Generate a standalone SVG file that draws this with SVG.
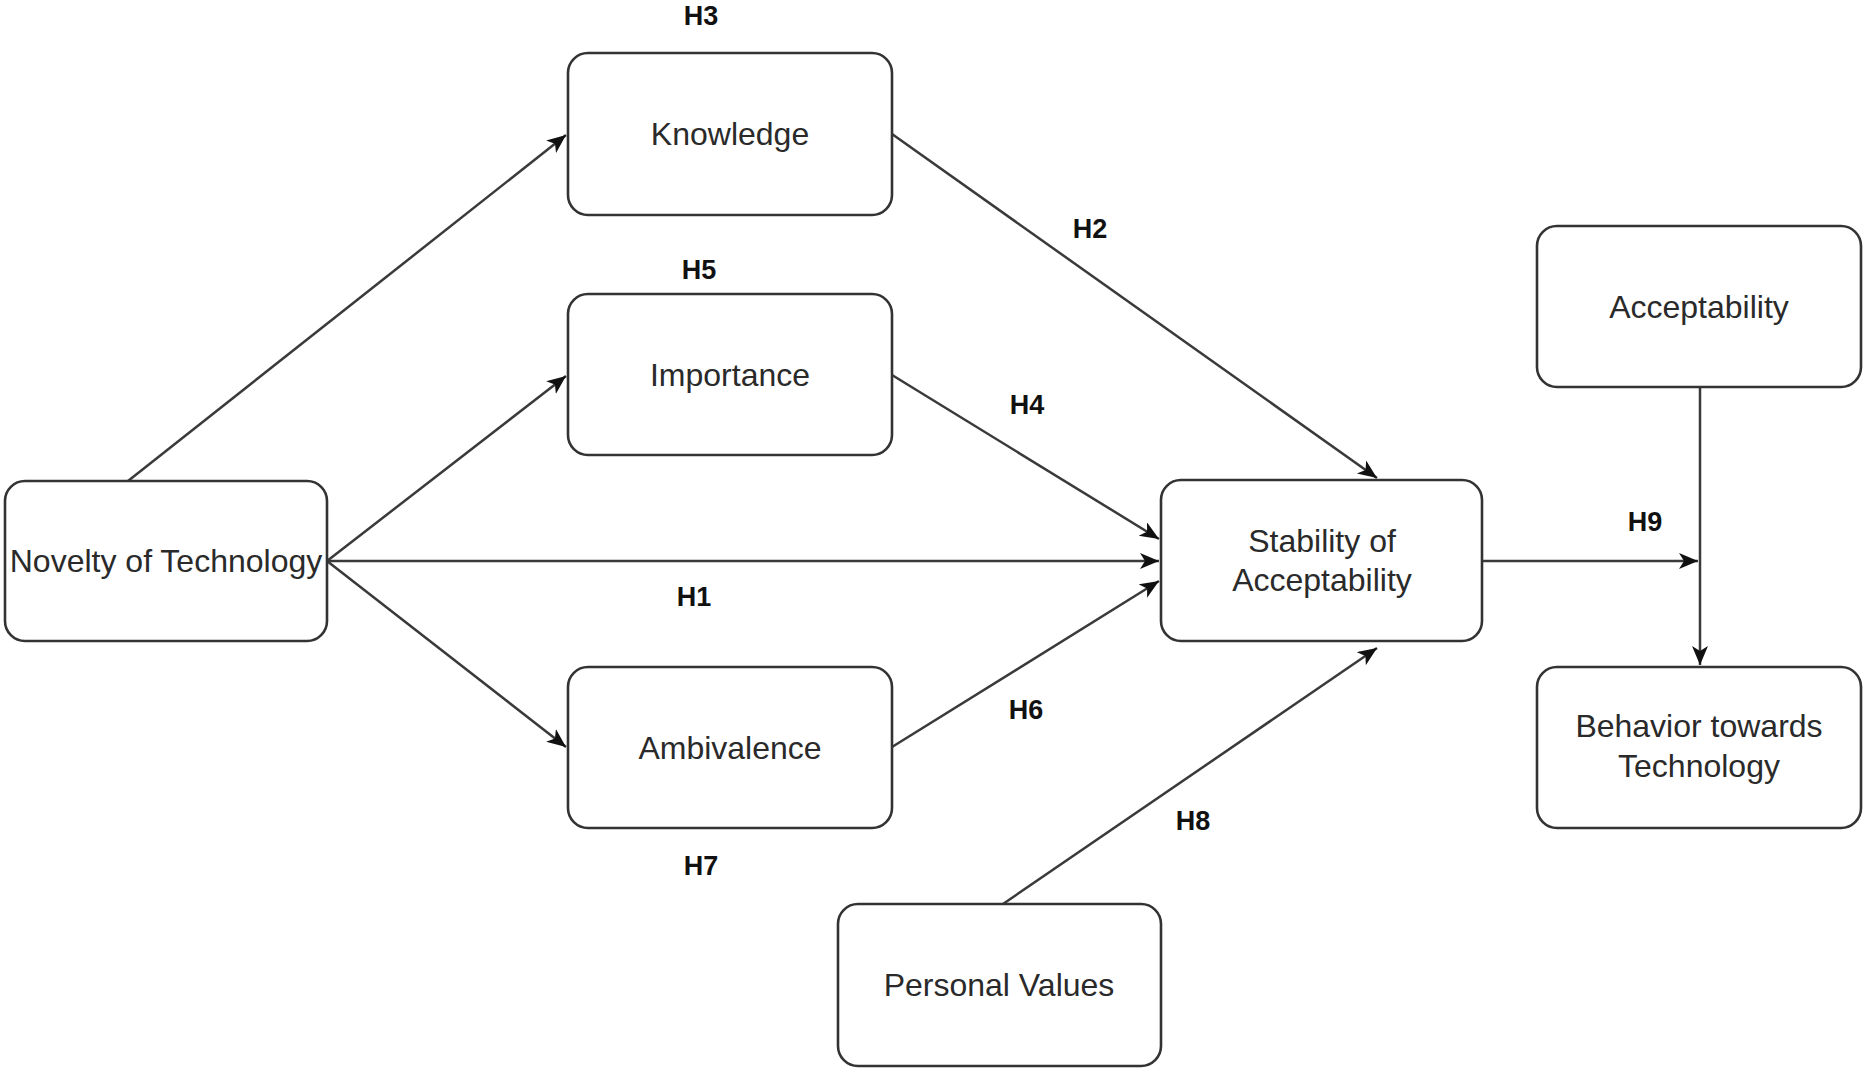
<svg xmlns="http://www.w3.org/2000/svg" width="1864" height="1070" viewBox="0 0 1864 1070">
<style>
.box{fill:#fff;stroke:#333;stroke-width:2.6}
.t{font-family:"Liberation Sans",Arial,sans-serif;font-size:32px;fill:#2a2a2a;text-anchor:middle}
.h{font-family:"Liberation Sans",Arial,sans-serif;font-size:27px;font-weight:bold;fill:#111;text-anchor:middle}
.c{fill:none;stroke:#3a3a3a;stroke-width:2.5}
</style>
<defs>
<marker id="arr" markerUnits="userSpaceOnUse" markerWidth="22" markerHeight="18" refX="19" refY="8" orient="auto">
<path d="M0,0 L19,8 L0,16 L5,8 z" fill="#111"/>
</marker>
</defs>
<g id="connectors">
<line class="c" x1="128" y1="481" x2="566" y2="135" marker-end="url(#arr)"/>
<line class="c" x1="327" y1="561" x2="566" y2="376" marker-end="url(#arr)"/>
<line class="c" x1="327" y1="561" x2="1159" y2="561" marker-end="url(#arr)"/>
<line class="c" x1="327" y1="561" x2="566" y2="747" marker-end="url(#arr)"/>
<line class="c" x1="892" y1="134" x2="1377" y2="478" marker-end="url(#arr)"/>
<line class="c" x1="892" y1="375" x2="1159" y2="539" marker-end="url(#arr)"/>
<line class="c" x1="892" y1="747" x2="1159" y2="581" marker-end="url(#arr)"/>
<line class="c" x1="1003" y1="904" x2="1377" y2="648" marker-end="url(#arr)"/>
<line class="c" x1="1482" y1="561" x2="1698" y2="561" marker-end="url(#arr)"/>
<line class="c" x1="1700" y1="387" x2="1700" y2="665" marker-end="url(#arr)"/>
</g>
<g id="knowledge"><rect class="box" x="568" y="53" width="324" height="162" rx="20"/><text class="t" x="730" y="145">Knowledge</text></g>
<g id="importance"><rect class="box" x="568" y="294" width="324" height="161" rx="20"/><text class="t" x="730" y="386">Importance</text></g>
<g id="ambivalence"><rect class="box" x="568" y="667" width="324" height="161" rx="20"/><text class="t" x="730" y="759">Ambivalence</text></g>
<g id="novelty"><rect class="box" x="5" y="481" width="322" height="160" rx="20"/><text class="t" x="166" y="572">Novelty of Technology</text></g>
<g id="stability"><rect class="box" x="1161" y="480" width="321" height="161" rx="20"/><text class="t" x="1322" y="552">Stability of</text><text class="t" x="1322" y="591">Acceptability</text></g>
<g id="acceptability"><rect class="box" x="1537" y="226" width="324" height="161" rx="20"/><text class="t" x="1699" y="318">Acceptability</text></g>
<g id="behavior"><rect class="box" x="1537" y="667" width="324" height="161" rx="20"/><text class="t" x="1699" y="737">Behavior towards</text><text class="t" x="1699" y="777">Technology</text></g>
<g id="personal"><rect class="box" x="838" y="904" width="323" height="162" rx="20"/><text class="t" x="999" y="996">Personal Values</text></g>
<g id="labels">
<text class="h" x="701" y="25">H3</text>
<text class="h" x="699" y="279">H5</text>
<text class="h" x="1090" y="238">H2</text>
<text class="h" x="1027" y="414">H4</text>
<text class="h" x="1645" y="531">H9</text>
<text class="h" x="694" y="606">H1</text>
<text class="h" x="1026" y="719">H6</text>
<text class="h" x="701" y="875">H7</text>
<text class="h" x="1193" y="830">H8</text>
</g>
</svg>
